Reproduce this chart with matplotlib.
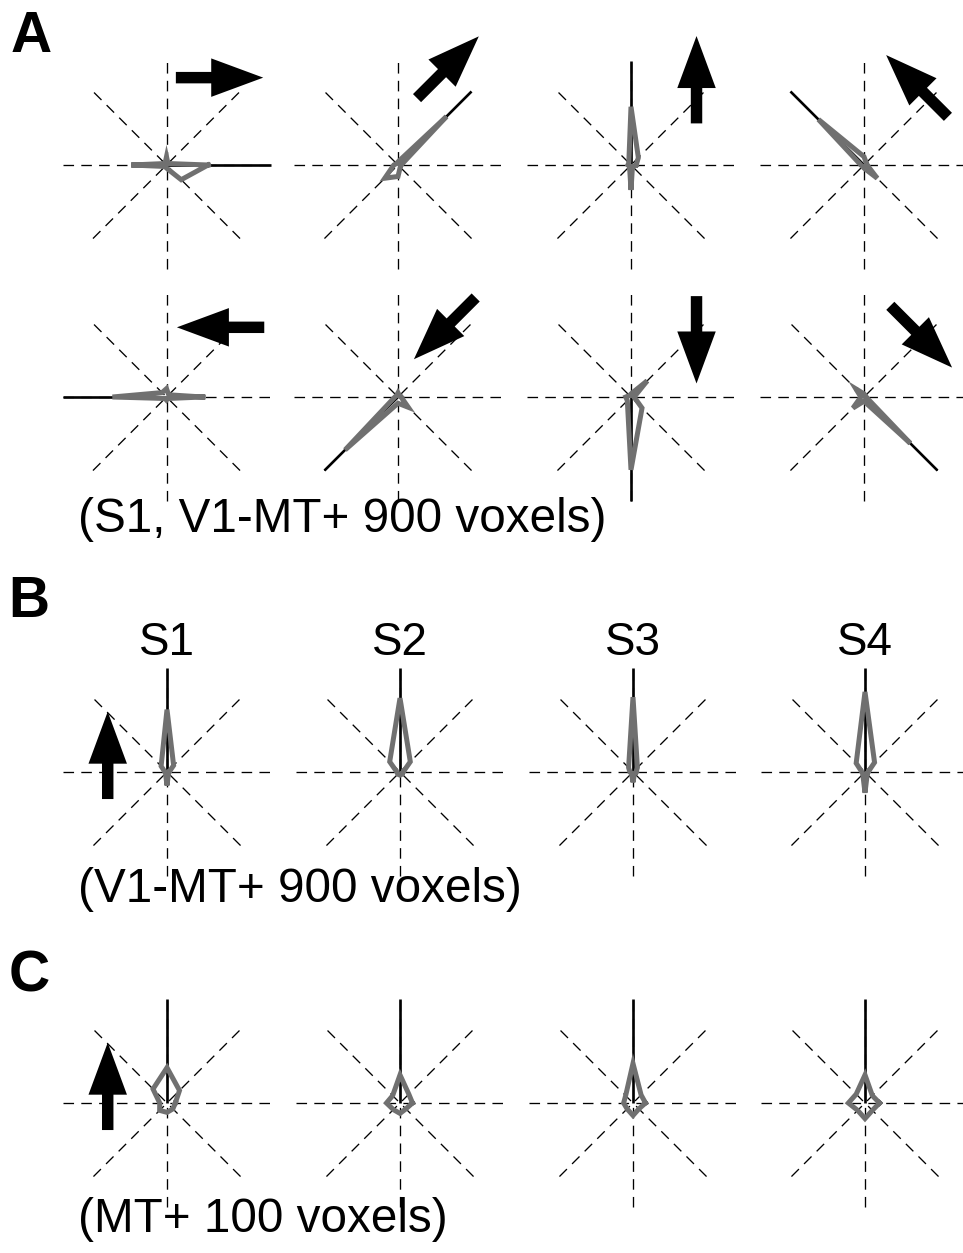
import numpy as np
import matplotlib
matplotlib.use("Agg")
import matplotlib.pyplot as plt
from matplotlib.patches import FancyArrow

plt.rcParams['font.family'] = ['Liberation Sans', 'DejaVu Sans']

# ---------------- data ----------------
angles_deg = [0, 45, 90, 135, 180, 225, 270, 315]

# Panel A: subject S1, 8 stimulus directions
A_directions = [0, 45, 90, 135, 180, 225, 270, 315]
A_right     = [0.40, 0.02, 0.08, 0.02, 0.34, 0.02, 0.03, 0.20]
A_upright   = [0.03, 0.66, 0.03, 0.02, 0.04, 0.18, 0.11, 0.03]
A_up        = [0.05, 0.10, 0.56, 0.03, 0.03, 0.02, 0.24, 0.02]
A_upleft    = [0.03, 0.03, 0.08, 0.62, 0.03, 0.02, 0.03, 0.18]
A_left      = [0.35, 0.03, 0.08, 0.06, 0.52, 0.02, 0.03, 0.02]
A_downleft  = [0.03, 0.02, 0.04, 0.02, 0.03, 0.72, 0.06, 0.14]
A_down      = [0.03, 0.22, 0.03, 0.02, 0.05, 0.05, 0.70, 0.15]
A_downright = [0.02, 0.02, 0.03, 0.11, 0.03, 0.15, 0.04, 0.63]

# Panel B: V1-MT+ 900 voxels, upward motion, 4 subjects
subjects = ["S1", "S2", "S3", "S4"]
B_S1 = [0.02, 0.09, 0.60, 0.08, 0.02, 0.02, 0.13, 0.02]
B_S2 = [0.03, 0.14, 0.71, 0.14, 0.03, 0.03, 0.03, 0.03]
B_S3 = [0.03, 0.06, 0.72, 0.06, 0.03, 0.02, 0.10, 0.02]
B_S4 = [0.03, 0.13, 0.77, 0.12, 0.03, 0.03, 0.20, 0.03]

# Panel C: MT+ 100 voxels, upward motion, 4 subjects
C_S1 = [0.08, 0.17, 0.34, 0.19, 0.07, 0.10, 0.09, 0.08]
C_S2 = [0.12, 0.12, 0.27, 0.10, 0.13, 0.09, 0.10, 0.08]
C_S3 = [0.12, 0.11, 0.38, 0.10, 0.09, 0.08, 0.12, 0.08]
C_S4 = [0.14, 0.10, 0.27, 0.12, 0.16, 0.10, 0.15, 0.10]

labels_text = ["(S1, V1-MT+ 900 voxels)", "(V1-MT+ 900 voxels)", "(MT+ 100 voxels)"]

# ---------------- layout ----------------
W, H = 963, 1253
R = 104.0          # pixels per unit radius
HALF = 130.0       # axes half size in px
fig = plt.figure(figsize=(W / 100, H / 100), dpi=100)

GRAY = '#707070'


def make_ax(cx, cy):
    ax = fig.add_axes([(cx - HALF) / W, 1 - (cy + HALF) / H, 2 * HALF / W, 2 * HALF / H])
    lim = HALF / R
    ax.set_xlim(-lim, lim)
    ax.set_ylim(-lim, lim)
    ax.set_aspect('equal')
    ax.axis('off')
    return ax


def draw_panel(ax, radii, true_dir, arrow_offset=None, arrow_dir=None):
    th = np.deg2rad(angles_deg)
    # dashed spokes
    for a in th[:4]:
        ax.plot([-np.cos(a), np.cos(a)], [-np.sin(a), np.sin(a)], color='black',
                lw=0.95, ls=(0, (8, 5.5)), zorder=1)
    # true direction line
    t = np.deg2rad(true_dir)
    ax.plot([0, np.cos(t)], [0, np.sin(t)], color='black', lw=1.9, zorder=2,
            solid_capstyle='butt')
    # polar profile
    r = np.array(radii + radii[:1])
    tt = np.concatenate([th, th[:1]])
    ax.plot(r * np.cos(tt), r * np.sin(tt), color=GRAY, lw=3.6, zorder=3,
            solid_joinstyle='miter')
    # block arrow
    if arrow_offset is not None:
        d = np.deg2rad(arrow_dir)
        L = 0.84
        ux, uy = np.cos(d), np.sin(d)
        x0 = arrow_offset[0] - ux * L / 2
        y0 = arrow_offset[1] - uy * L / 2
        arr = FancyArrow(x0, y0, ux * L, uy * L, width=0.11, head_width=0.37,
                         head_length=0.50, length_includes_head=True,
                         color='black', lw=0, clip_on=False, zorder=4)
        ax.add_patch(arr)


A_data = [A_right, A_upright, A_up, A_upleft, A_left, A_downleft, A_down, A_downright]
A_arrow_offsets = [(0.51, 0.84), (0.48, 0.94), (0.63, 0.82), (0.51, 0.76),
                   (0.52, 0.67), (0.45, 0.66), (0.63, 0.55), (0.55, 0.58)]
col_x_A = [166.5, 398, 631, 864]
row_y_A = [165, 397]

for i, (radii, dirn, off) in enumerate(zip(A_data, A_directions, A_arrow_offsets)):
    cx = col_x_A[i % 4]
    cy = row_y_A[i // 4]
    ax = make_ax(cx, cy)
    draw_panel(ax, radii, dirn, off, dirn)

col_x_BC = [167, 400, 633, 865]
B_data = [B_S1, B_S2, B_S3, B_S4]
C_data = [C_S1, C_S2, C_S3, C_S4]
for i, radii in enumerate(B_data):
    ax = make_ax(col_x_BC[i], 772)
    if i == 0:
        draw_panel(ax, radii, 90, (-0.57, 0.16), 90)
    else:
        draw_panel(ax, radii, 90)
    fig.text(col_x_BC[i] / W, 1 - 643 / H, subjects[i], fontsize=33,
             ha='center', va='center')

for i, radii in enumerate(C_data):
    ax = make_ax(col_x_BC[i], 1103)
    if i == 0:
        draw_panel(ax, radii, 90, (-0.57, 0.16), 90)
    else:
        draw_panel(ax, radii, 90)

# panel letters
for letter, (x, y) in zip(["A", "B", "C"], [(31, 37), (29, 602), (29, 976)]):
    fig.text(x / W, 1 - y / H, letter, fontsize=41, fontweight='bold',
             ha='center', va='center')

# captions
for txt, (x, y) in zip(labels_text, [(78, 519), (78, 889), (78, 1220)]):
    fig.text(x / W, 1 - y / H, txt, fontsize=34.3, ha='left', va='center')

fig.savefig('out.png', dpi=100, facecolor='white')
